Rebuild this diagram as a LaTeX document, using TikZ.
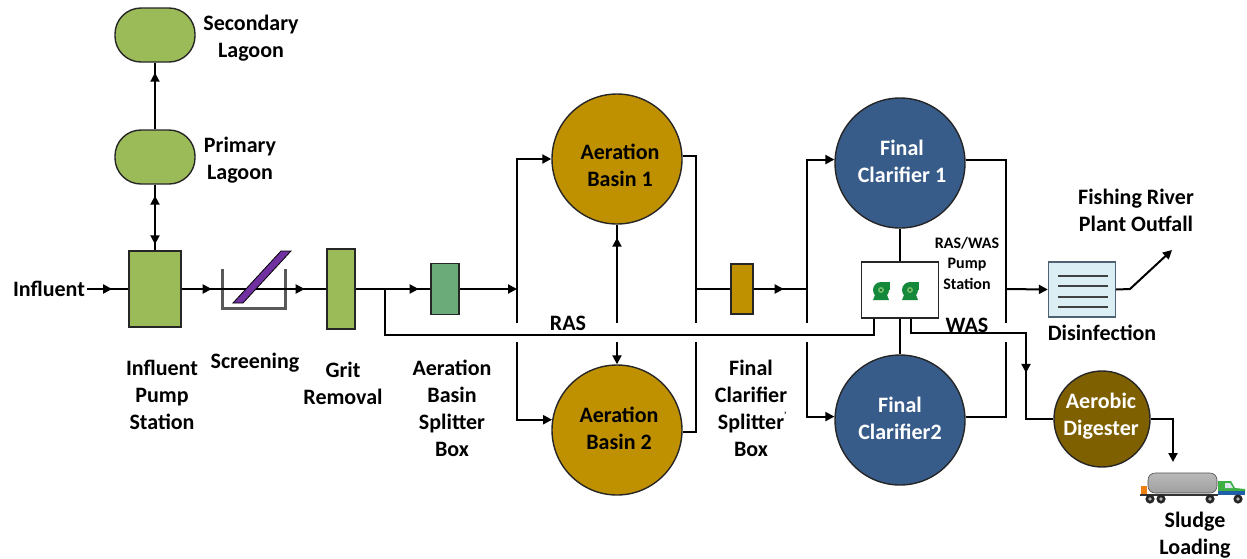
\documentclass[tikz,border=0pt]{standalone}
\usepackage{fontspec}
\setmainfont{Carlito}
\usetikzlibrary{arrows.meta,decorations.markings,calc}

\definecolor{lagoongreen}{HTML}{9BBB59}
\definecolor{splitgreen}{HTML}{6BAA79}
\definecolor{basingold}{HTML}{BF9000}
\definecolor{clarblue}{HTML}{385C8A}
\definecolor{digbrown}{HTML}{7F6000}
\definecolor{disfill}{HTML}{DAEEF3}
\definecolor{disedge}{HTML}{4F6272}
\definecolor{disline}{HTML}{404040}
\definecolor{screenbar}{HTML}{7030A0}
\definecolor{wallgray}{HTML}{595959}
\definecolor{pumpgreen}{HTML}{14893C}
\definecolor{pumpdark}{HTML}{0B5A25}
\definecolor{pumplight}{HTML}{6FBF6A}
\definecolor{edge}{HTML}{262626}
\definecolor{cabgreen}{HTML}{3CB043}
\definecolor{cabblue}{HTML}{1F5FA8}

\tikzset{
  flow/.style={draw=black, line width=2pt},
  >={Triangle[length=9pt,width=9pt]},
  tipat/.style={postaction={decorate,decoration={markings,
      mark=at position #1 with {\arrow{Triangle[length=9pt,width=9pt]}}}}},
  lbl/.style={font=\fontsize{22}{27}\selectfont\bfseries, align=center, text=black, inner sep=2pt},
  smalllbl/.style={font=\fontsize{16}{20.5}\selectfont\bfseries, align=center, text=black, inner sep=1pt},
  lagoon/.style={draw=edge, line width=1.4pt, fill=lagoongreen, rounded corners=26pt,
      minimum width=80pt, minimum height=54pt},
  unitbox/.style={draw=edge, line width=1.4pt, rectangle, inner sep=0pt},
  tank/.style={circle, draw=edge, line width=1.4pt, minimum size=130pt, inner sep=0pt},
  wall/.style={draw=wallgray, line width=3pt},
  blower/.pic={
    % volute body, discharge at the upper right, and the foot
    \fill[pumpgreen] (0,0) circle (8);
    \fill[pumpgreen] (0,-8) rectangle (8.5,0);
    \fill[pumpgreen] (-6,5) -- (6,5) -- (8,10) -- (-8,10) -- cycle;
    \fill[pumplight] (0,0) circle (3);
    \fill[pumpdark] (0,0) circle (1.1);
  }
}

\begin{document}
\begin{tikzpicture}[x=1pt,y=-1pt]
\useasboundingbox (0,0) rectangle (1247,558);

% ---- lagoons and headworks
\node[lagoon] (sec) at (155,35) {};
\node[lagoon] (pri) at (155,157) {};
\node[unitbox, fill=lagoongreen, minimum width=52pt, minimum height=76pt] (ips) at (155,289) {};
\node[minimum width=62pt, minimum height=39pt, inner sep=0pt] (scr) at (254,289) {};
\node[unitbox, fill=lagoongreen, minimum width=28pt, minimum height=80pt] (grit) at (341,289) {};
\node[unitbox, fill=splitgreen, minimum width=28pt, minimum height=51pt] (absp) at (445,289) {};

% ---- aeration and clarification
\node[tank, fill=basingold] (ab1) at (617,159) {};
\node[tank, fill=basingold] (ab2) at (617,430) {};
\node[unitbox, fill=basingold, minimum width=22pt, minimum height=50pt] (fcsp) at (742,289) {};
\node[tank, fill=clarblue] (fc1) at (900,163) {};
\node[tank, fill=clarblue] (fc2) at (900,420) {};
\node[unitbox, fill=white, minimum width=77pt, minimum height=56pt] (pst) at (900,290) {};
\node[unitbox, fill=disfill, draw=disedge, minimum width=67pt, minimum height=55pt] (dis) at (1082,289.5) {};
\node[circle, draw=edge, line width=1.4pt, fill=digbrown, minimum size=96pt, inner sep=0pt] (dig) at (1102,419) {};

% ---- screen channel with bar rack
\draw[wall] (scr.north west) -- (scr.south west) -- (scr.south east) -- (scr.north east);

% ---- junction points
\coordinate (rasJ) at (385,289);
\coordinate (rasL) at (385,335);
\coordinate (j1m) at (517,289);
\coordinate (j1a) at (517,323);
\coordinate (j1b) at (517,342);
\coordinate (r1) at (617,323);
\coordinate (r2) at (617,342);
\coordinate (j2a) at (696,323);
\coordinate (j2b) at (696,342);
\coordinate (j2m) at (696,289);
\coordinate (j3m) at (807,289);
\coordinate (j3a) at (807,323);
\coordinate (j3b) at (807,342);
\coordinate (j4a) at (1006,323);
\coordinate (j4b) at (1006,342);
\coordinate (j4m) at (1006,289);
\coordinate (wasK) at (1026,333);
\coordinate (bend) at (1130,289);
\coordinate (outf) at (1172,250);
\coordinate (sld) at (1173,462);

% ---- text
\node[lbl] (inf) at (49,289) {Influent};
\node[lbl] (tsec) at (251,38) {Secondary\\Lagoon};
\node[lbl] (tpri) at (240,160) {Primary\\Lagoon};
\node[lbl] (tips) at (162,395) {Influent\\Pump\\Station};
\node[lbl] (tscr) at (255,363) {Screening};
\node[lbl] (tgrit) at (343,383) {Grit\\Removal};
\node[lbl] (tabsp) at (452,408) {Aeration\\Basin\\Splitter\\Box};
\node[lbl] (tfcsp) at (751,408) {Final\\Clarifier\\Splitter\rlap{\raisebox{0.5em}{\fontsize{9}{9}\selectfont'}}\\Box};
\node[lbl] (tras) at (568,323) {RAS};
\node[smalllbl] (tpst) at (967,263) {RAS/WAS\\Pump\\Station};
\node[lbl] (twas) at (967,325) {WAS};
\node[lbl] (tout) at (1136,210) {Fishing River\\Plant Outfall};
\node[lbl] (tdis) at (1102,333) {Disinfection};
\node[lbl] (tsld) at (1195,535) {Sludge\\Loading};
\node[lbl] (tab1) at (620,165) {Aeration\\Basin 1};
\node[lbl] (tab2) at (619,428) {Aeration\\Basin 2};
\node[lbl, text=white] (tfc1) at (902,161) {Final\\Clarifier 1};
\node[lbl, text=white] (tfc2) at (900,418) {Final\\Clarifier2};
\node[lbl, text=white] (tdig) at (1101,416) {Aerobic\\Digester};

% ---- connectors
\draw[flow, tipat=-10pt] (pri.north) -- (sec.south);
\draw[flow, tipat=-11pt] (ips.north) -- (pri.south);
\draw[flow, tipat=-6pt] (pri.south) -- (ips.north);
\draw[flow, tipat=25pt] (inf.east) -- (ips.west);
\draw[flow, tipat=30pt, tipat=123pt] (ips.east) -- (scr.west) -- (scr.east) -- (grit.west);
\draw[flow, tipat=63pt] (grit.east) -- (absp.west);
\draw[flow, ->] (absp.east) -- (j1m);
\draw[flow, ->] (j1a) |- (ab1.west);
\draw[flow, ->] (j1b) |- (ab2.171);
\draw[flow] (ab1.3) -| (j2a);
\draw[flow] (ab2.358) -| (j2b);
\draw[flow] (j2m) -- (fcsp.west);
\draw[flow, tipat=-13pt] (r1) -- (ab1.south);
\draw[flow, ->] (r2) -- (ab2.north);
\draw[flow, tipat=30pt] (fcsp.east) -- (j3m);
\draw[flow, ->] (j3a) |- (fc1.177);
\draw[flow, ->] (j3b) |- (fc2.177);
\draw[flow] (fc1.3) -| (j4a);
\draw[flow] (fc2.3) -| (j4b);
\draw[flow, ->] (j4m) -- (dis.west);
\draw[flow, ->] (dis.east) -- (bend) -- (outf);
\draw[flow] (fc1.south) -- (pst.north);
\draw[flow] (pst.south) -- (fc2.north);
\draw[flow] ($(pst.south west)+(13,0)$) |- (rasL) -- (rasJ);
\draw[flow, tipat=169pt] ($(pst.south east)+(-28,0)$) |- (wasK) |- (dig.west);
\draw[flow, ->] (dig.east) -| (sld);

% ---- bar rack (drawn over the channel line)
\filldraw[fill=screenbar, draw=black, line width=0.8pt]
  (233,303) -- (243,303) -- (291,251) -- (281,251) -- cycle;

% ---- disinfection contact chamber baffles
\foreach \yy in {276,286,297,307}
  \draw[line width=1.2pt, draw=disline] (1058,\yy) -- (1108,\yy);

% ---- blowers in the RAS/WAS pump station
\pic at (881,290) {blower};
\pic at (910,290) {blower};

% ---- sludge tanker truck
\fill[orange!70!brown] (1141,486) rectangle (1147,494);
\shade[top color=gray!55, middle color=gray!15, bottom color=gray!75, rounded corners=7pt]
  (1148,473) rectangle (1217,493);
\draw[gray!60!black, line width=0.6pt, rounded corners=7pt] (1148,473) rectangle (1217,493);
\draw[line width=2pt, draw=gray!40!black] (1140,495) -- (1224,495);
\fill[white] (1218,481) -- (1231,481) -- (1235,488) -- (1245,489) -- (1245,500) -- (1218,500) -- cycle;
\fill[cabgreen] (1218,481) -- (1231,481) -- (1235,488) -- (1245,489) -- (1245,492) -- (1218,492) -- cycle;
\fill[cabblue] (1218,491) rectangle (1245,495);
\fill[white!85!cabblue] (1225,483) -- (1230,483) -- (1233,488) -- (1225,488) -- cycle;
\foreach \wx in {1150,1161,1210,1238} {
  \fill[black!85] (\wx,499) circle (4.6);
  \fill[gray!60] (\wx,499) circle (1.8);
}

\end{tikzpicture}
\end{document}
